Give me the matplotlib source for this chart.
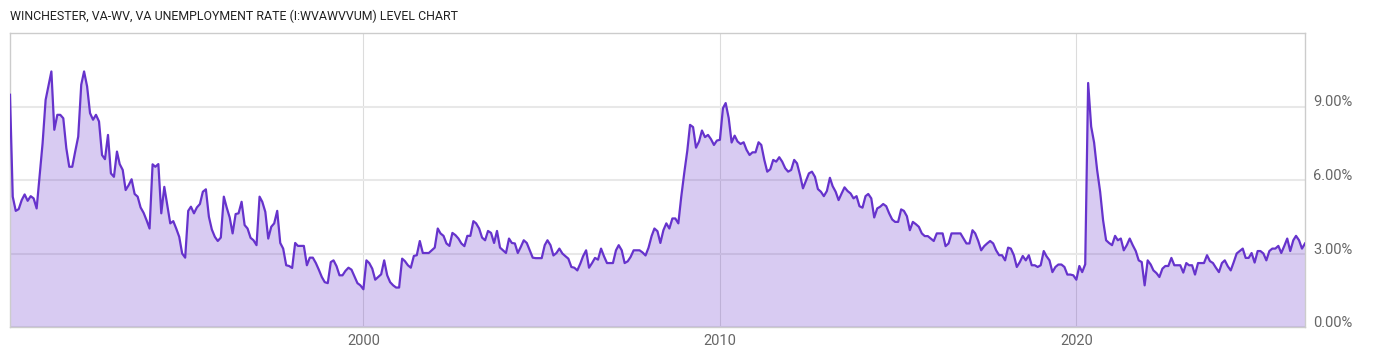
import matplotlib.pyplot as plt
import matplotlib.dates as mdates
import pandas as pd

# monthly unemployment rate (%), Feb 1990 .. Jun 2026
rate_1990s = [
    9.48, 5.32, 4.74, 4.81, 5.18, 5.41, 5.15, 5.34, 5.25, 4.84,
    6.13, 7.50, 9.27, 9.82, 10.43, 8.05, 8.66, 8.66, 8.52, 7.30,
    6.54, 6.54, 7.16, 7.77, 9.89, 10.43, 9.82, 8.73, 8.46, 8.66,
    8.39, 7.02, 6.85, 7.84, 6.27, 6.13, 7.16, 6.65, 6.41, 5.59,
    5.79, 6.03, 5.43, 5.32, 4.88, 4.66, 4.36, 4.02, 6.64, 6.54,
    6.65, 4.64, 5.72, 4.98, 4.23, 4.32, 4.02, 3.68, 3.00, 2.83,
    4.74, 4.91, 4.64, 4.88, 5.02, 5.52, 5.62, 4.50, 3.98, 3.68,
    3.51, 3.65, 5.32, 4.88, 4.47, 3.82, 4.61, 4.64, 5.11,
    4.16, 4.02, 3.64, 3.54, 3.34, 5.32, 5.11, 4.70, 3.61, 4.09,
    4.23, 4.74, 3.43, 3.20, 2.52, 2.49, 2.41, 3.43, 3.31, 3.31,
    3.31, 2.52, 2.83, 2.83, 2.61, 2.34, 2.04, 1.83, 1.79, 2.65,
    2.72, 2.48, 2.11, 2.11, 2.29, 2.42, 2.34, 2.07,
    1.79, 1.70,
]
rate_2000s = [
    1.54, 2.72, 2.61, 2.38, 1.93, 2.04, 2.15, 2.72, 2.11, 1.83,
    1.70, 1.61, 1.61, 2.79, 2.69, 2.52, 2.42, 2.90, 2.93, 3.51,
    3.02, 3.02, 3.02, 3.13, 3.24, 4.02, 3.82, 3.72, 3.41, 3.31,
    3.84, 3.75, 3.61, 3.41, 3.30, 3.72,
    3.72, 4.32, 4.23, 4.02, 3.65, 3.54, 3.92, 3.84, 3.43, 3.92,
    3.24, 3.13, 3.02, 3.61, 3.43, 3.41, 3.02, 3.27, 3.54, 3.43,
    3.13, 2.83, 2.81, 2.81, 2.81, 3.34, 3.54, 3.34, 2.92, 3.02,
    3.20, 3.00, 2.89, 2.79, 2.45, 2.42, 2.31, 2.59, 2.89, 3.13,
    2.42, 2.61, 2.82, 2.75, 3.20, 2.89, 2.61, 2.61, 2.61, 3.13,
    3.34, 3.13, 2.61, 2.68, 2.86, 3.13, 3.13, 3.13, 3.04, 2.92,
    3.24, 3.71, 4.02, 3.91, 3.43, 3.95, 4.23, 4.02, 4.43, 4.43,
    4.23, 5.32,
    6.30, 7.20, 8.25, 8.16, 7.32, 7.57, 8.02, 7.75, 7.84, 7.67,
    7.43, 7.61,
]
rate_2010s = [
    7.64, 8.93, 9.14, 8.53, 7.53, 7.81, 7.57, 7.47, 7.54, 7.23,
    7.02, 7.13, 7.13, 7.54, 7.43, 6.82, 6.34, 6.44, 6.82, 6.75,
    6.93, 6.75, 6.48, 6.34, 6.41, 6.82, 6.68, 6.20, 5.66, 5.97,
    6.27, 6.34, 6.13, 5.63, 5.52, 5.34, 5.55, 6.09, 5.75, 5.52,
    5.18, 5.45, 5.70, 5.55, 5.45, 5.25, 5.34, 4.93, 4.87, 5.34,
    5.43, 5.25, 4.47, 4.84, 4.91, 5.02, 4.93, 4.64, 4.39, 4.29,
    4.29, 4.80, 4.74, 4.52, 3.95, 4.29, 4.20, 4.09,
    3.82, 3.71, 3.71, 3.61, 3.51, 3.82, 3.82, 3.82, 3.30, 3.41,
    3.82, 3.82, 3.82, 3.82, 3.61, 3.41, 3.41, 3.95, 3.82, 3.51,
    3.13, 3.30, 3.41, 3.51, 3.41, 3.13, 2.93, 2.93, 2.72, 3.24,
    3.20, 2.93, 2.45, 2.65, 2.90, 2.72, 2.93, 2.52, 2.52, 2.45,
    2.52, 3.10, 2.89, 2.72, 2.24, 2.45, 2.55, 2.55, 2.45, 2.14,
    2.14, 2.11,
]
rate_2020s = [
    1.93, 2.49, 2.24, 2.56, 9.96, 8.18, 7.53, 6.41, 5.52, 4.36,
    3.54, 3.43, 3.34, 3.72, 3.54, 3.61, 3.13, 3.34, 3.61, 3.34,
    3.10, 2.72, 2.65, 1.70, 2.72, 2.55, 2.31, 2.20, 2.04, 2.38,
    2.49, 2.49, 2.82, 2.52, 2.52, 2.52, 2.22, 2.61, 2.52, 2.52,
    2.14, 2.61, 2.61, 2.61, 2.93, 2.69, 2.61, 2.42, 2.24, 2.61,
    2.72, 2.48, 2.31, 2.65, 3.00, 3.10, 3.20, 2.82, 2.82, 3.02,
    2.63, 3.10, 3.10, 3.00, 2.72, 3.10, 3.20, 3.20, 3.31, 3.02,
    3.31, 3.61, 3.10, 3.54, 3.72, 3.54, 3.20, 3.41,
]

year_ticks = [2000, 2010, 2020]
pct_ticks = [0, 3, 6, 9]
title = "WINCHESTER, VA-WV, VA UNEMPLOYMENT RATE (I:WVAWVVUM) LEVEL CHART"

rate = rate_1990s + rate_2000s + rate_2010s + rate_2020s
dates = pd.date_range("1990-02-01", periods=len(rate), freq="MS")

line_color = "#6633cc"
grey = "#666666"

fig = plt.figure(figsize=(14, 3.57), dpi=100)
ax = fig.add_axes([10 / 1400, 1 - 327 / 357, 1295 / 1400, 294 / 357])

ax.fill_between(dates, rate, 0, color=line_color, alpha=0.25, lw=0, zorder=2)
ax.plot(dates, rate, color=line_color, lw=1.6, zorder=3)

ax.set_xlim(dates[0], dates[-1])
ax.set_ylim(0, 12)

ax.set_xticks([pd.Timestamp(f"{y}-01-01") for y in year_ticks])
ax.xaxis.set_major_formatter(mdates.DateFormatter("%Y"))
ax.set_yticks(pct_ticks)
ax.set_yticklabels([f"{v:.2f}%" for v in pct_ticks])
ax.yaxis.tick_right()

ax.tick_params(axis="both", length=0, labelsize=10.5, labelcolor=grey)
ax.tick_params(axis="x", pad=5)
ax.tick_params(axis="y", pad=6)
for lbl in ax.get_yticklabels() + ax.get_xticklabels():
    lbl.set_family(["Roboto", "DejaVu Sans"])
for lbl in ax.get_yticklabels():
    lbl.set_va("baseline")

ax.grid(axis="y", color="#e8e8e8", lw=1.5, zorder=0)
ax.grid(axis="x", color="#dcdcdc", lw=0.8, zorder=0)
ax.set_axisbelow(True)

for s in ax.spines.values():
    s.set_color("#cccccc")
    s.set_linewidth(1)

# the source uses a condensed face; fall back to a smaller Roboto if missing
fig.text(10 / 1400, 1 - 16 / 357, title, fontsize=8.9, color="#222222",
         va="center", ha="left", family=["Roboto", "DejaVu Sans"])

fig.savefig("out.png", dpi=100)
plt.close(fig)
